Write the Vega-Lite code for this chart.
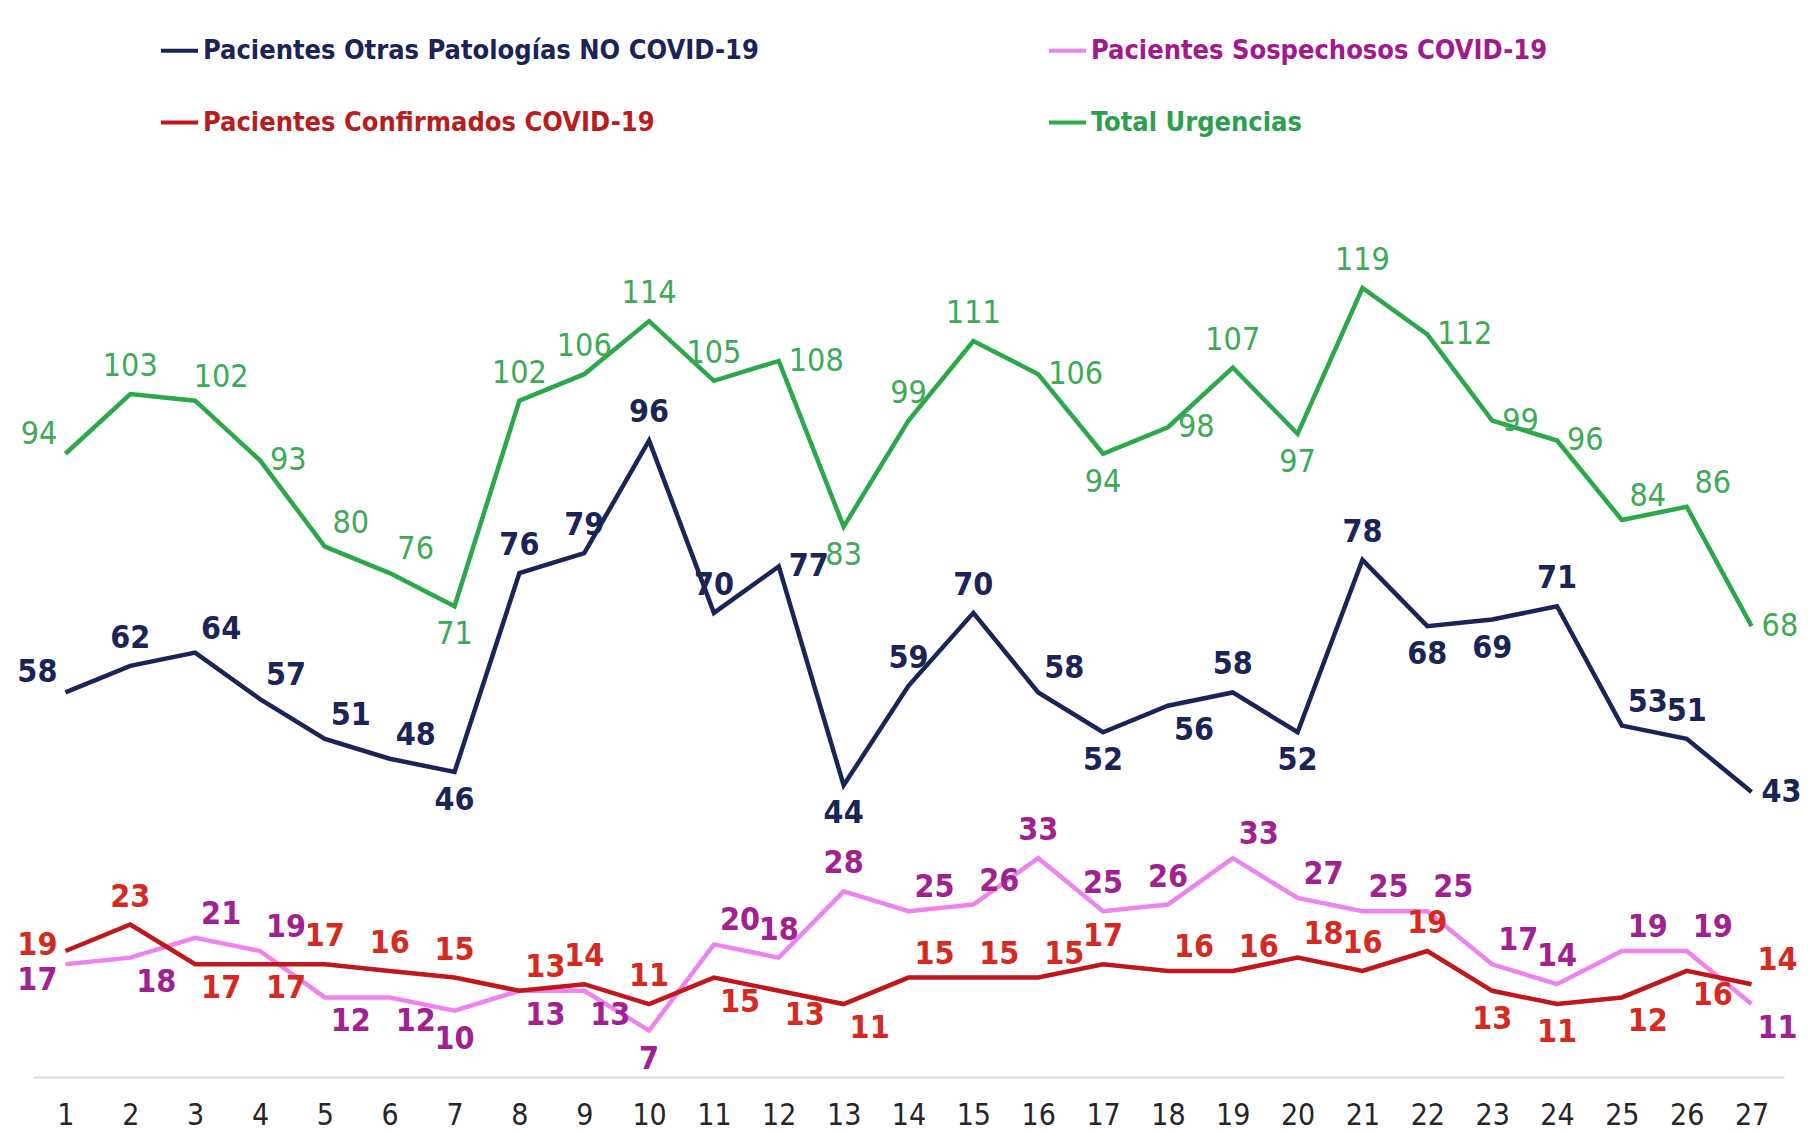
{
  "$schema": "https://vega.github.io/schema/vega-lite/v6.json",
  "width": 1751,
  "height": 915,
  "autosize": {"type": "none"},
  "padding": {"left": 33, "top": 162, "right": 36, "bottom": 57},
  "background": "white",
  "config": {
    "view": {"stroke": null},
    "font": "DejaVu Sans Condensed, sans-serif"
  },
  "data": {
    "values": [
      {"day": 1, "Pacientes Otras Patologías NO COVID-19": 58, "Pacientes Sospechosos COVID-19": 17, "Pacientes Confirmados COVID-19": 19, "Total Urgencias": 94},
      {"day": 2, "Pacientes Otras Patologías NO COVID-19": 62, "Pacientes Sospechosos COVID-19": 18, "Pacientes Confirmados COVID-19": 23, "Total Urgencias": 103},
      {"day": 3, "Pacientes Otras Patologías NO COVID-19": 64, "Pacientes Sospechosos COVID-19": 21, "Pacientes Confirmados COVID-19": 17, "Total Urgencias": 102},
      {"day": 4, "Pacientes Otras Patologías NO COVID-19": 57, "Pacientes Sospechosos COVID-19": 19, "Pacientes Confirmados COVID-19": 17, "Total Urgencias": 93},
      {"day": 5, "Pacientes Otras Patologías NO COVID-19": 51, "Pacientes Sospechosos COVID-19": 12, "Pacientes Confirmados COVID-19": 17, "Total Urgencias": 80},
      {"day": 6, "Pacientes Otras Patologías NO COVID-19": 48, "Pacientes Sospechosos COVID-19": 12, "Pacientes Confirmados COVID-19": 16, "Total Urgencias": 76},
      {"day": 7, "Pacientes Otras Patologías NO COVID-19": 46, "Pacientes Sospechosos COVID-19": 10, "Pacientes Confirmados COVID-19": 15, "Total Urgencias": 71},
      {"day": 8, "Pacientes Otras Patologías NO COVID-19": 76, "Pacientes Sospechosos COVID-19": 13, "Pacientes Confirmados COVID-19": 13, "Total Urgencias": 102},
      {"day": 9, "Pacientes Otras Patologías NO COVID-19": 79, "Pacientes Sospechosos COVID-19": 13, "Pacientes Confirmados COVID-19": 14, "Total Urgencias": 106},
      {"day": 10, "Pacientes Otras Patologías NO COVID-19": 96, "Pacientes Sospechosos COVID-19": 7, "Pacientes Confirmados COVID-19": 11, "Total Urgencias": 114},
      {"day": 11, "Pacientes Otras Patologías NO COVID-19": 70, "Pacientes Sospechosos COVID-19": 20, "Pacientes Confirmados COVID-19": 15, "Total Urgencias": 105},
      {"day": 12, "Pacientes Otras Patologías NO COVID-19": 77, "Pacientes Sospechosos COVID-19": 18, "Pacientes Confirmados COVID-19": 13, "Total Urgencias": 108},
      {"day": 13, "Pacientes Otras Patologías NO COVID-19": 44, "Pacientes Sospechosos COVID-19": 28, "Pacientes Confirmados COVID-19": 11, "Total Urgencias": 83},
      {"day": 14, "Pacientes Otras Patologías NO COVID-19": 59, "Pacientes Sospechosos COVID-19": 25, "Pacientes Confirmados COVID-19": 15, "Total Urgencias": 99},
      {"day": 15, "Pacientes Otras Patologías NO COVID-19": 70, "Pacientes Sospechosos COVID-19": 26, "Pacientes Confirmados COVID-19": 15, "Total Urgencias": 111},
      {"day": 16, "Pacientes Otras Patologías NO COVID-19": 58, "Pacientes Sospechosos COVID-19": 33, "Pacientes Confirmados COVID-19": 15, "Total Urgencias": 106},
      {"day": 17, "Pacientes Otras Patologías NO COVID-19": 52, "Pacientes Sospechosos COVID-19": 25, "Pacientes Confirmados COVID-19": 17, "Total Urgencias": 94},
      {"day": 18, "Pacientes Otras Patologías NO COVID-19": 56, "Pacientes Sospechosos COVID-19": 26, "Pacientes Confirmados COVID-19": 16, "Total Urgencias": 98},
      {"day": 19, "Pacientes Otras Patologías NO COVID-19": 58, "Pacientes Sospechosos COVID-19": 33, "Pacientes Confirmados COVID-19": 16, "Total Urgencias": 107},
      {"day": 20, "Pacientes Otras Patologías NO COVID-19": 52, "Pacientes Sospechosos COVID-19": 27, "Pacientes Confirmados COVID-19": 18, "Total Urgencias": 97},
      {"day": 21, "Pacientes Otras Patologías NO COVID-19": 78, "Pacientes Sospechosos COVID-19": 25, "Pacientes Confirmados COVID-19": 16, "Total Urgencias": 119},
      {"day": 22, "Pacientes Otras Patologías NO COVID-19": 68, "Pacientes Sospechosos COVID-19": 25, "Pacientes Confirmados COVID-19": 19, "Total Urgencias": 112},
      {"day": 23, "Pacientes Otras Patologías NO COVID-19": 69, "Pacientes Sospechosos COVID-19": 17, "Pacientes Confirmados COVID-19": 13, "Total Urgencias": 99},
      {"day": 24, "Pacientes Otras Patologías NO COVID-19": 71, "Pacientes Sospechosos COVID-19": 14, "Pacientes Confirmados COVID-19": 11, "Total Urgencias": 96},
      {"day": 25, "Pacientes Otras Patologías NO COVID-19": 53, "Pacientes Sospechosos COVID-19": 19, "Pacientes Confirmados COVID-19": 12, "Total Urgencias": 84},
      {"day": 26, "Pacientes Otras Patologías NO COVID-19": 51, "Pacientes Sospechosos COVID-19": 19, "Pacientes Confirmados COVID-19": 16, "Total Urgencias": 86},
      {"day": 27, "Pacientes Otras Patologías NO COVID-19": 43, "Pacientes Sospechosos COVID-19": 11, "Pacientes Confirmados COVID-19": 14, "Total Urgencias": 68}
    ]
  },
  "transform": [
    {"fold": ["Total Urgencias", "Pacientes Otras Patologías NO COVID-19", "Pacientes Sospechosos COVID-19", "Pacientes Confirmados COVID-19"], "as": ["s", "v"]}
  ],
  "encoding": {
    "x": {
      "field": "day",
      "type": "ordinal",
      "axis": {
        "title": null,
        "labelAngle": 0,
        "ticks": false,
        "grid": false,
        "domainColor": "#D9D9D9",
        "domainWidth": 2,
        "labelFontSize": 30,
        "labelColor": "#262626",
        "labelPadding": 23,
        "labelFont": "DejaVu Sans Condensed, sans-serif"
      }
    },
    "y": {
      "field": "v",
      "type": "quantitative",
      "scale": {"domain": [0, 138], "nice": false, "zero": true},
      "axis": null
    }
  },
  "layer": [
    {
      "mark": {"type": "line", "strokeWidth": 4.5, "strokeJoin": "miter"},
      "encoding": {
        "color": {
          "field": "s",
          "type": "nominal",
          "scale": {
            "domain": ["Pacientes Otras Patologías NO COVID-19", "Pacientes Confirmados COVID-19", "Pacientes Sospechosos COVID-19", "Total Urgencias"],
            "range": ["#1B2456", "#C0171C", "#EE82EE", "#2AA84A"]
          },
          "legend": {
            "title": null,
            "orient": "none",
            "legendX": 126,
            "legendY": -132,
            "columns": 2,
            "columnPadding": 282,
            "rowPadding": 38,
            "padding": 0,
            "symbolType": "stroke",
            "symbolSize": 1369,
            "symbolStrokeWidth": 4,
            "labelOffset": 3,
            "labelLimit": 0,
            "labelFontSize": 27,
            "labelFontWeight": "bold",
            "labelFont": "DejaVu Sans Condensed, sans-serif",
            "encode": {
              "labels": {
                "update": {
                  "fill": {"signal": "datum.label === 'Total Urgencias' ? '#2E9E4F' : datum.label === 'Pacientes Confirmados COVID-19' ? '#B81D1D' : datum.label === 'Pacientes Sospechosos COVID-19' ? '#A3198C' : '#1B2456'"}
                }
              }
            }
          }
        }
      }
    },
    {
      "mark": {
        "type": "text",
        "fontSize": 32,
        "baseline": "middle",
        "fontWeight": {"expr": "datum.s === 'Total Urgencias' ? 'normal' : 'bold'"},
        "align": {"expr": "['right','right','right','center','center','center','center','left'][indexof('LlkabABr', substring(datum.s==='Total Urgencias'?'LaArAAbaaaarbaarbrabarrrAAr':datum.s==='Pacientes Confirmados COVID-19'?'laBBaaaAaaBBBAAAaAAAaabbBBA':datum.s==='Pacientes Sospechosos COVID-19'?'kBAABBbBBbAaaAAaaaAAAAAaAAB':'LaAAAAbaaaarbaaAbBababbaAar', datum.day-1, datum.day))]"},
        "dx": {"expr": "[-8,-8,-8,0,0,26,26,10][indexof('LlkabABr', substring(datum.s==='Total Urgencias'?'LaArAAbaaaarbaarbrabarrrAAr':datum.s==='Pacientes Confirmados COVID-19'?'laBBaaaAaaBBBAAAaAAAaabbBBA':datum.s==='Pacientes Sospechosos COVID-19'?'kBAABBbBBbAaaAAaaaAAAAAaAAB':'LaAAAAbaaaarbaaAbBababbaAar', datum.day-1, datum.day))]"},
        "dy": {"expr": "[-20,-6,16,-28,28,-24,24,0][indexof('LlkabABr', substring(datum.s==='Total Urgencias'?'LaArAAbaaaarbaarbrabarrrAAr':datum.s==='Pacientes Confirmados COVID-19'?'laBBaaaAaaBBBAAAaAAAaabbBBA':datum.s==='Pacientes Sospechosos COVID-19'?'kBAABBbBBbAaaAAaaaAAAAAaAAB':'LaAAAAbaaaarbaaAbBababbaAar', datum.day-1, datum.day))]"}
      },
      "encoding": {
        "text": {"field": "v", "type": "quantitative"},
        "color": {
          "field": "s",
          "type": "nominal",
          "scale": {
            "domain": ["Pacientes Otras Patologías NO COVID-19", "Pacientes Sospechosos COVID-19", "Pacientes Confirmados COVID-19", "Total Urgencias"],
            "range": ["#1B2456", "#A0218F", "#D42A22", "#3DAA55"]
          },
          "legend": null
        }
      }
    }
  ],
  "resolve": {"scale": {"color": "independent"}}
}
